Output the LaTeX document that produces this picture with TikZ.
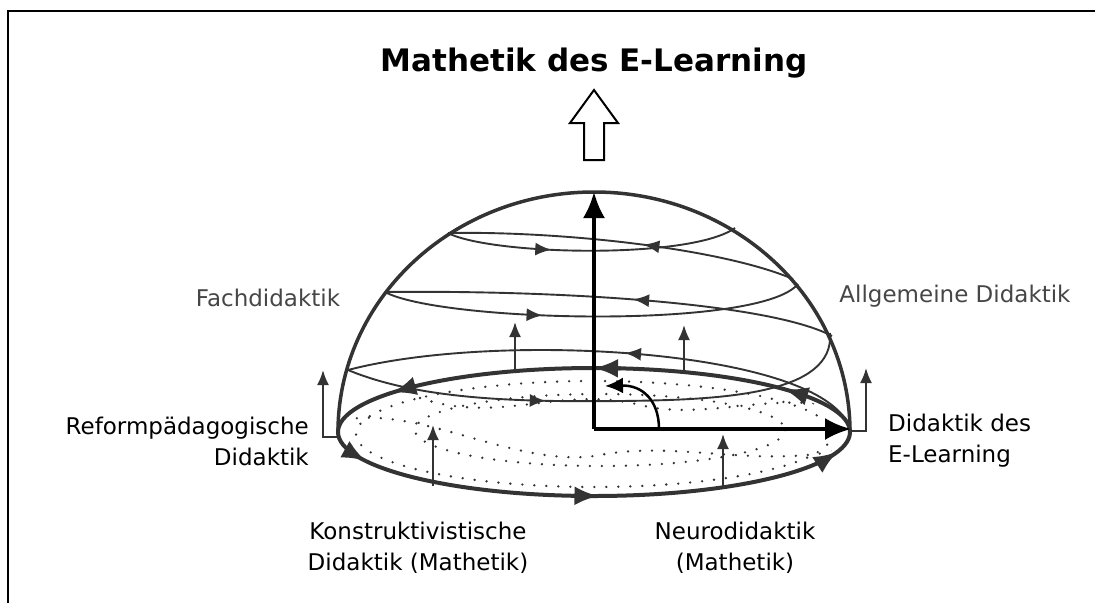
\documentclass[tikz,border=0pt]{standalone}
\usepackage{fontspec}
\setmainfont{DejaVu Sans}
\usetikzlibrary{arrows.meta,decorations.markings,calc}
\definecolor{dk}{RGB}{51,51,51}
\definecolor{lbl}{RGB}{70,70,70}
\begin{document}
\begin{tikzpicture}[x=1pt,y=-1pt,
  lab/.style={font=\fontsize{23}{31}\selectfont, inner sep=0pt, text=black},
  glab/.style={lab, text=lbl},
  ttl/.style={font=\fontsize{31}{37}\selectfont\bfseries, inner sep=0pt},
  ring/.style={draw=dk, line width=1.9pt},
  thinarrow/.style={draw=dk, line width=1.9pt, -{Latex[length=15pt,width=12pt]}},
  midarrow/.style={postaction={decorate}, decoration={markings, mark=at position #1 with {\arrow[dk]{Latex[length=16pt,width=13pt]}}}},
  axisarrow/.style={draw=black, line width=3.5pt, -{Latex[length=26pt,width=22pt]}},
  bigtip/.style={draw=dk, line width=4pt, -{Latex[length=24pt,width=19pt]}},
  domeline/.style={draw=dk, line width=3.5pt},
  dotline/.style={draw=dk, line width=2.6pt, dash pattern=on 0pt off 12pt, line cap=round},
]
\useasboundingbox (0,0) rectangle (1095,603);
% frame
\draw[line width=2.5pt] (8,603) -- (8,11) -- (1095,11);

% title and hollow arrow
\node[ttl] (title) at (594,63) {Mathetik des E-Learning};
\draw[line width=2pt, fill=white] (584,160) -- (584,123) -- (570,123) -- (594,90) -- (618,123) -- (604,123) -- (604,160) -- cycle;

% dots inside the base
\begin{scope}
\clip (594,432) ellipse[x radius=250, y radius=60];
\draw[dotline] (594,434) ellipse[x radius=238, y radius=53];
\draw[dotline] (600,430) ellipse[x radius=185, y radius=36];
\draw[dotline] (345,420) .. controls (420,405) and (520,470) .. (600,455) .. controls (680,440) and (760,470) .. (850,448);
\draw[dotline] (420,398) .. controls (500,425) and (560,385) .. (640,405) .. controls (700,420) and (760,395) .. (830,405);
\end{scope}

% spiral rings
\draw[ring, midarrow=0.39] (348,370) .. controls (420,400) and (520,402) .. (620,401) .. controls (720,400) and (835,395) .. (830,333);
\draw[ring, midarrow=0.47] (850,430) .. controls (830,350) and (500,330) .. (348,370);
\draw[ring, midarrow=0.38] (385,292) .. controls (440,322) and (760,330) .. (798,284);
\draw[ring, midarrow=0.45] (832,336) .. controls (770,303) and (560,290) .. (385,292);
\draw[ring, midarrow=0.36] (448,233) .. controls (490,255) and (690,260) .. (735,228);
\draw[ring, midarrow=0.44] (793,279) .. controls (720,248) and (560,231) .. (448,233);

% base ellipse
\draw[domeline, line width=4pt] (594,432) ellipse[x radius=256, y radius=64];
\foreach \t in {42,90,142,207,271,342} {
  \draw[bigtip] ({594+256*cos(\t-6)},{432-64*sin(\t-6)}) -- ({594+256*cos(\t)},{432-64*sin(\t)});
}

% dome
\draw[domeline] (338,432) arc[start angle=180, end angle=360, x radius=256, y radius=240];

% thin vertical arrows
\coordinate (a1s) at (515,371); \coordinate (a1e) at (515,322);
\coordinate (a2s) at (684,372); \coordinate (a2e) at (684,325);
\coordinate (a3s) at (433,486); \coordinate (a3e) at (433,425);
\coordinate (a4s) at (723,488); \coordinate (a4e) at (723,434);
\draw[thinarrow] (a1s) -- (a1e);
\draw[thinarrow] (a2s) -- (a2e);
\draw[thinarrow] (a3s) -- (a3e);
\draw[thinarrow] (a4s) -- (a4e);
\coordinate (lb) at (338,437); \coordinate (lbe) at (323,370);
\coordinate (rb) at (850,431); \coordinate (rbe) at (866,368);
\draw[thinarrow] (lb) -- (lb -| lbe) -- (lbe);
\draw[thinarrow] (rb) -- (rb -| rbe) -- (rbe);

% axes
\coordinate (O) at (594,429);
\coordinate (T) at (594,192);
\coordinate (R) at (851,429);
\draw[axisarrow] (O) -- (T);
\draw[axisarrow] (O) -- (R);
\coordinate (c1) at (659,429);
\coordinate (c2) at (605,386);
\draw[draw=black, line width=2.5pt, -{Latex[length=18pt,width=16pt]}] (c1) .. controls (659,400) and (642,385) .. (c2);

% labels
\node[glab] (fach) at (268,298) {Fachdidaktik};
\node[glab] (allg) at (955,296) {Allgemeine Didaktik};
\node[lab, align=right, anchor=east] (reform) at (309,441) {Reformpädagogische\\Didaktik};
\node[lab, align=left, anchor=west] (elearn) at (888,441) {Didaktik des\\E-Learning};
\node[lab, align=center] (konst) at (418,548) {Konstruktivistische\\Didaktik (Mathetik)};
\node[lab, align=center] (neuro) at (735,548) {Neurodidaktik\\(Mathetik)};
\end{tikzpicture}
\end{document}
